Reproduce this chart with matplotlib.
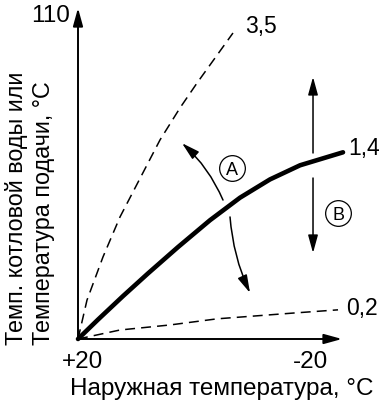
import matplotlib
matplotlib.use("Agg")
import matplotlib.pyplot as plt

plt.rcParams['font.family'] = ['Liberation Sans', 'DejaVu Sans']

# Data: outdoor temperature (°C) vs flow temperature (°C)
curve_35_x = [20, 18.45, 15.69, 12.76, 5.86, 2.41, -0.52, -6.72]
curve_35_y = [20, 30.8, 42.8, 53.9, 75.3, 84.2, 91.1, 105.0]

curve_14_x = [20, 16.55, 12.24, 7.93, 2.76, -2.76, -7.93, -13.10, -18.28, -25.69]
curve_14_y = [20, 25.39, 31.92, 38.22, 45.53, 53.0, 59.25, 64.33, 68.25, 71.86]

curve_02_x = [20, 12.76, 4.14, -3.97, -17.07, -24.83]
curve_02_y = [20, 22.5, 23.9, 25.6, 27.2, 28.1]

x_ticks = [20, -20]
x_tick_labels = ['+20', '-20']
y_top_label = '110'
slope_labels = ['3,5', '1,4', '0,2']

fig = plt.figure(figsize=(3.8, 4.03), dpi=100)
ax = fig.add_axes([0, 0, 1, 1])
ax.set_xlim(33.448, -32.069)
ax.set_ylim(2.222, 114.167)
ax.axis('off')

# axes arrows
ahead = dict(arrowstyle='-|>,head_length=0.8,head_width=0.22', mutation_scale=13.5,
             color='black', lw=1.4, shrinkA=0, shrinkB=0)
ax.annotate('', xy=(20, 111.94), xytext=(20, 20), arrowprops=ahead)
ax.annotate('', xy=(-25.52, 20), xytext=(20, 20), arrowprops=ahead)

# curves
dash = (6.5, 4)
ax.plot(curve_35_x, curve_35_y, color='black', lw=1.1, dashes=dash)
ax.plot(curve_02_x, curve_02_y, color='black', lw=1.1, dashes=dash)
ax.plot(curve_14_x, curve_14_y, color='black', lw=3.3, solid_capstyle='round',
        solid_joinstyle='round')

fs = 17.5
fs_num = 16.5
ax.text(21.38, 108.06, y_top_label, fontsize=fs, ha='right', va='baseline')
ax.text(x_ticks[0] - 0.86, 11.94, x_tick_labels[0], fontsize=fs, ha='center', va='baseline')
ax.text(x_ticks[1] - 0.17, 11.94, x_tick_labels[1], fontsize=fs, ha='center', va='baseline')
ax.text(-4.83, 4.44, 'Наружная температура, °C', fontsize=fs, ha='center', va='baseline')

ax.text(-8.79, 105.0, slope_labels[0], fontsize=fs_num, ha='left', va='baseline')
ax.text(-26.55, 71.1, slope_labels[1], fontsize=fs_num, ha='left', va='baseline')
ax.text(-26.2, 26.67, slope_labels[2], fontsize=fs_num, ha='left', va='baseline')

fs_y = 16.8
ax.text(29.48, 18.33, 'Темп. котловой воды или', fontsize=fs_y, rotation=90,
        rotation_mode='anchor', ha='left', va='baseline')
ax.text(24.83, 18.33, 'Температура подачи, °C', fontsize=fs_y, rotation=90,
        rotation_mode='anchor', ha='left', va='baseline')

# arrow A (curved, split around the curve)
thin = dict(arrowstyle='-|>,head_length=0.8,head_width=0.22', mutation_scale=13.5,
            color='black', lw=1.1, shrinkA=0, shrinkB=0)
ax.annotate('', xy=(2.07, 74.4), xytext=(-5.0, 58.6),
            arrowprops=dict(thin, connectionstyle='arc3,rad=0.11'))
ax.annotate('', xy=(-9.66, 32.8), xytext=(-6.21, 53.9),
            arrowprops=dict(thin, connectionstyle='arc3,rad=0.09'))

# arrow B (vertical, split around the curve)
ax.annotate('', xy=(-20.52, 92.78), xytext=(-20.52, 71.67), arrowprops=thin)
ax.annotate('', xy=(-20.52, 43.89), xytext=(-20.52, 64.72), arrowprops=thin)

# circled labels
for (cx, cy, lab) in [(-6.55, 67.5, 'A'), (-24.83, 55.0, 'B')]:
    ax.plot([cx], [cy], marker='o', markersize=18.5, fillstyle='none',
            markeredgecolor='black', markeredgewidth=0.9, color='black')
    ax.text(cx, cy, lab, fontsize=13, ha='center', va='center_baseline')

fig.savefig('out.png', dpi=100)
